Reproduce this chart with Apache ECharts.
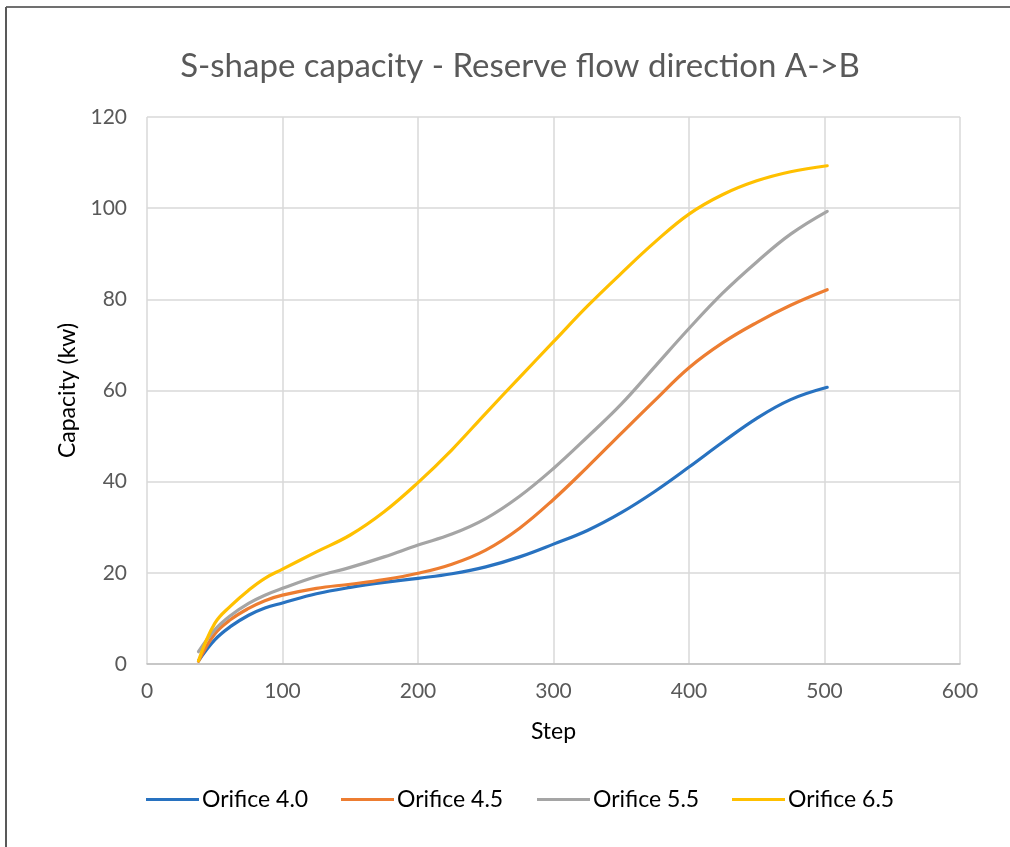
<!DOCTYPE html>
<html>
<head>
<meta charset="utf-8">
<script src="https://cdn.jsdelivr.net/npm/echarts@6/dist/echarts.min.js"></script>
<style>
  html, body { margin: 0; padding: 0; background: #ffffff; }
  #chart { width: 1010px; height: 847px; }
</style>
</head>
<body>
<div id="chart"></div>
<script>
// ---- Data ----
const steps = [38, 50, 62, 75, 87, 100, 125, 150, 175, 200, 225, 250, 275, 300, 325, 350, 375, 400, 425, 450, 475, 502];
const orifice40 = [0.7, 5.3, 8.3, 10.7, 12.3, 13.4, 15.4, 16.8, 17.9, 18.8, 19.8, 21.3, 23.5, 26.3, 29.3, 33.2, 37.9, 43.2, 48.7, 53.9, 58.0, 60.7];
const orifice45 = [0.6, 6.6, 9.8, 12.2, 13.9, 15.1, 16.6, 17.5, 18.5, 19.9, 21.9, 25.0, 29.8, 36.1, 43.2, 50.6, 57.9, 65.0, 70.5, 74.9, 78.7, 82.1];
const orifice55 = [2.7, 7.5, 10.7, 13.3, 15.1, 16.6, 19.2, 21.2, 23.5, 26.1, 28.5, 31.9, 36.8, 42.9, 49.8, 57.0, 65.3, 73.6, 81.4, 88.2, 94.3, 99.3];
const orifice65 = [0.7, 8.9, 12.8, 16.2, 18.8, 20.8, 24.6, 28.3, 33.4, 39.8, 47.0, 55.0, 62.9, 70.7, 78.5, 85.7, 92.6, 98.7, 103.0, 106.0, 108.0, 109.3];

const seriesNames = ['Orifice 4.0', 'Orifice 4.5', 'Orifice 5.5', 'Orifice 6.5'];
const seriesValues = [orifice40, orifice45, orifice55, orifice65];
const colors = ['#2872C0', '#ED7D31', '#A5A5A5', '#FFC000'];

const titleText = 'S-shape capacity - Reserve flow direction A->B';
const xName = 'Step';
const yName = 'Capacity (kw)';

const FONT = 'Lato, "Open Sans", "Liberation Sans", sans-serif';

const chart = echarts.init(document.getElementById('chart'), null, { renderer: 'canvas' });

const legendLefts = [141, 336, 532, 727];

const option = {
  backgroundColor: '#ffffff',
  animation: false,
  color: colors,
  title: {
    text: titleText,
    left: 515,
    top: 45,
    textAlign: 'center',
    textStyle: { fontFamily: FONT, fontSize: 33, fontWeight: 'normal', color: '#595959' }
  },
  grid: { left: 147, right: 50, top: 117, bottom: 183, containLabel: false },
  legend: seriesNames.map((n, i) => ({
    data: [n],
    left: legendLefts[i],
    top: 783,
    icon: 'rect',
    itemWidth: 53,
    itemHeight: 3,
    itemGap: 0,
    textStyle: { fontFamily: FONT, fontSize: 23, color: '#000000', padding: [0, 0, 0, -2] }
  })),
  xAxis: {
    type: 'value',
    min: 0, max: 600, interval: 100,
    name: xName,
    nameLocation: 'middle',
    nameGap: 56,
    nameTextStyle: { fontFamily: FONT, fontSize: 23, color: '#000000' },
    axisLine: { show: true, lineStyle: { color: '#BFBFBF', width: 1.5 } },
    axisTick: { show: false },
    axisLabel: { fontFamily: FONT, fontSize: 21, color: '#595959', margin: 17 },
    splitLine: { show: true, lineStyle: { color: '#D9D9D9', width: 1.5 } }
  },
  yAxis: {
    type: 'value',
    min: 0, max: 120, interval: 20,
    name: yName,
    nameLocation: 'middle',
    nameGap: 65,
    nameTextStyle: { fontFamily: FONT, fontSize: 23, color: '#000000' },
    axisLine: { show: false },
    axisTick: { show: false },
    axisLabel: { fontFamily: FONT, fontSize: 21, color: '#595959', margin: 20 },
    splitLine: { show: true, lineStyle: { color: '#D9D9D9', width: 1.5 } }
  },
  series: seriesNames.map((n, i) => ({
    name: n,
    type: 'line',
    data: steps.map((s, j) => [s, seriesValues[i][j]]),
    smooth: 0.4,
    showSymbol: false,
    symbol: 'none',
    lineStyle: { width: 3.2, color: colors[i], cap: 'round' },
    itemStyle: { color: colors[i] }
  })),
  graphic: [
    {
      type: 'line',
      silent: true,
      shape: { x1: 6, y1: 7, x2: 1010, y2: 7 },
      style: { stroke: '#404040', lineWidth: 1.5 }
    },
    {
      type: 'line',
      silent: true,
      shape: { x1: 6, y1: 7, x2: 6, y2: 847 },
      style: { stroke: '#595959', lineWidth: 2 }
    }
  ]
};

chart.setOption(option);
</script>
</body>
</html>
